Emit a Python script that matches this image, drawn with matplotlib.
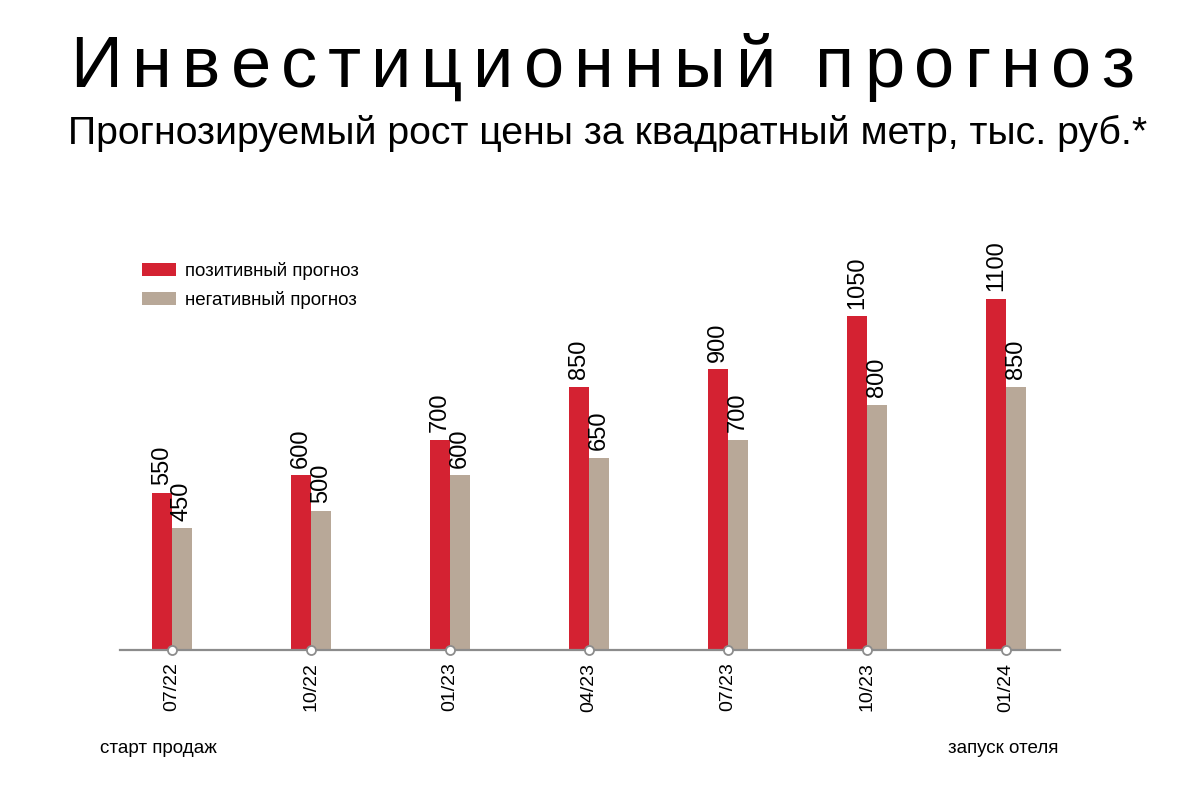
import numpy as np
from matplotlib import pyplot as plt

# data
periods = ['07/22', '10/22', '01/23', '04/23', '07/23', '10/23', '01/24']
positive = [550, 600, 700, 850, 900, 1050, 1100]
negative = [450, 500, 600, 650, 700, 800, 850]
series_names = ['позитивный прогноз', 'негативный прогноз']

title = 'Инвестиционный прогноз'
subtitle = 'Прогнозируемый рост цены за квадратный метр, тыс. руб.*'
start_note = 'старт продаж'
end_note = 'запуск отеля'

RED = '#d42232'
BEIGE = '#b8a898'
GREY = '#8c8c8c'

plt.rcParams['font.family'] = ['Liberation Sans', 'DejaVu Sans']

fig = plt.figure(figsize=(12, 8.05), dpi=100)
fig.patch.set_facecolor('white')
ax = fig.add_axes([0.1, 1 - 650 / 805, 0.7833, 450 / 805])

x = np.arange(len(periods))
w = 0.144
ax.bar(x - w / 2, positive, w, color=RED, label=series_names[0])
ax.bar(x + w / 2, negative, w, color=BEIGE, label=series_names[1])

for xi, p, n in zip(x, positive, negative):
    ax.text(xi - w / 2, p + 22, str(p), rotation=90, ha='center', va='bottom', fontsize=17)
    ax.text(xi + w / 2, n + 22, str(n), rotation=90, ha='center', va='bottom', fontsize=17)

ax.set_xlim(-0.374, 6.388)
ax.set_ylim(106, 1379)

for s in ['top', 'right', 'left']:
    ax.spines[s].set_visible(False)
ax.spines['bottom'].set_color(GREY)
ax.spines['bottom'].set_linewidth(1.6)
ax.set_yticks([])
ax.set_xticks(x)
ax.set_xticklabels(periods, rotation=90, fontsize=14, va='top')
ax.tick_params(axis='x', length=0, pad=9)
ax.plot(x, [106] * len(x), 'o', ms=6.5, mfc='white', mec=GREY, mew=1.3, clip_on=False, zorder=5)

leg = ax.legend(loc='upper left', bbox_to_anchor=(0.005, 0.90), frameon=False, fontsize=13.5,
                handlelength=1.85, handleheight=0.7, handletextpad=0.45, labelspacing=0.6)

# title with wide letter spacing
fig.canvas.draw()
renderer = fig.canvas.get_renderer()
cx = 70
for ch in title:
    t = fig.text(cx / 1200, 1 - 87 / 805, ch, fontsize=52, ha='left', va='baseline')
    bb = t.get_window_extent(renderer)
    if ch == ' ':
        cx += 28
    else:
        cx += bb.width + 10.2

fig.text(68 / 1200, 1 - 144 / 805, subtitle, fontsize=28.3, ha='left', va='baseline')
fig.text(100 / 1200, 1 - 753 / 805, start_note, fontsize=13.5, ha='left', va='baseline')
fig.text(1058 / 1200, 1 - 753 / 805, end_note, fontsize=13.5, ha='right', va='baseline')

fig.savefig('out.png', dpi=100)
